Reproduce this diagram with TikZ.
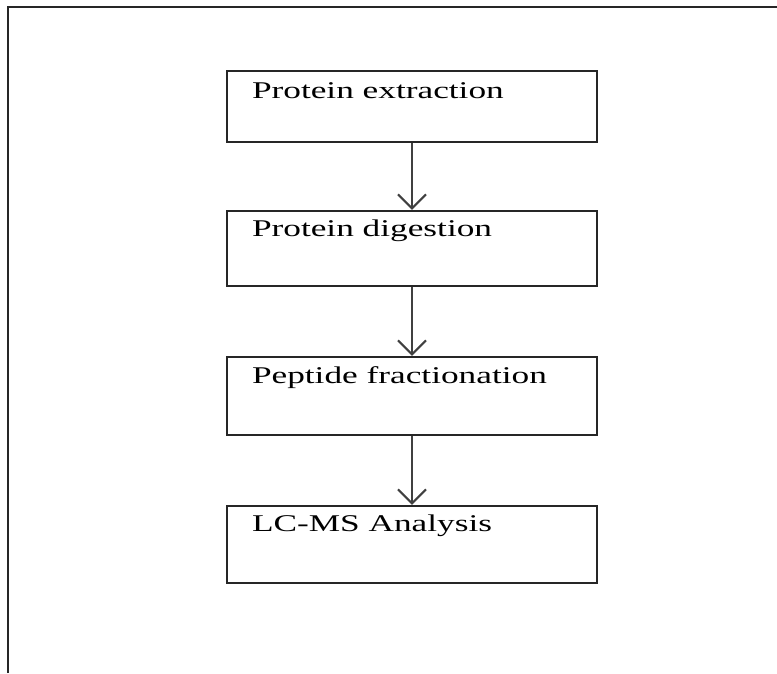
\documentclass[tikz,border=0pt]{standalone}
\usepackage{fontspec}
\setmainfont{Liberation Serif}
\usepackage{tikz}
\usetikzlibrary{arrows.meta,positioning}

\tikzset{
    stepbox/.style={draw=black!85,line width=2.4pt,minimum width=370pt,inner sep=0pt},
    steplbl/.style={anchor=base west,inner sep=0pt,font=\fontsize{24}{27}\selectfont},
    flow/.style={draw=black!75,line width=2pt,-{Straight Barb[length=14pt,width=28pt,line width=2pt]}}
}

\begin{document}
\begin{tikzpicture}[x=1pt,y=-1pt]
    \useasboundingbox (0,0) rectangle (777,673);
    \draw[black!85,line width=2.6pt] (8,673) |- (777,7);

    \node[stepbox,minimum height=71pt] (extract) at (412,106.5) {};
    \node[stepbox,minimum height=75pt] (digest)  at (412,248.5) {};
    \node[stepbox,minimum height=78pt] (fraction) at (412,396) {};
    \node[stepbox,minimum height=77pt] (lcms)    at (412,544.5) {};

    \node[steplbl] (extractlbl)  at ([xshift=26pt,yshift=-29pt]extract.north west)  {\scalebox{1.47}[1]{Protein extraction}};
    \node[steplbl] (digestlbl)   at ([xshift=26pt,yshift=-27pt]digest.north west)   {\scalebox{1.47}[1]{Protein digestion}};
    \node[steplbl] (fractionlbl) at ([xshift=26pt,yshift=-28pt]fraction.north west) {\scalebox{1.47}[1]{Peptide fractionation}};
    \node[steplbl] (lcmslbl)     at ([xshift=26pt,yshift=-27pt]lcms.north west)     {\scalebox{1.47}[1]{LC-MS Analysis}};

    \draw[flow] (extract) -- (digest);
    \draw[flow] (digest) -- (fraction);
    \draw[flow] (fraction) -- (lcms);
\end{tikzpicture}
\end{document}
